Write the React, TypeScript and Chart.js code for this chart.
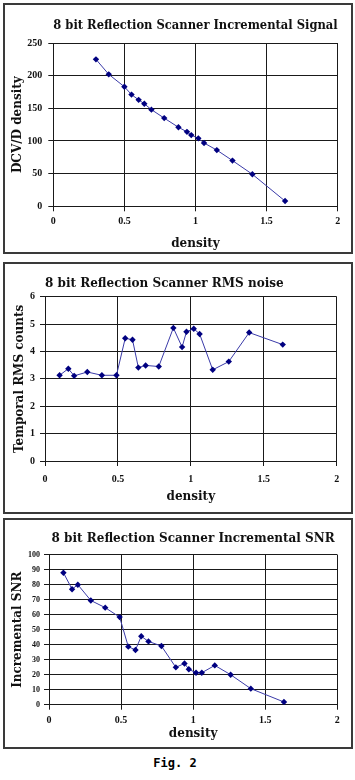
import React, { useEffect, useRef } from "react";
import Chart from "chart.js/auto";

// ---- data ----
const densitySignal = [0.30, 0.39, 0.50, 0.55, 0.60, 0.64, 0.69, 0.78, 0.88, 0.94, 0.97, 1.02, 1.06, 1.15, 1.26, 1.40, 1.63];
const signalValues = [225, 202, 183, 171, 163, 157, 148, 135, 121, 114, 109, 104, 97, 86, 70, 49, 8];

const densityNoise = [0.10, 0.16, 0.20, 0.29, 0.39, 0.49, 0.55, 0.60, 0.64, 0.69, 0.78, 0.88, 0.94, 0.97, 1.02, 1.06, 1.15, 1.26, 1.40, 1.63];
const rmsValues = [3.13, 3.37, 3.11, 3.25, 3.13, 3.13, 4.48, 4.43, 3.41, 3.49, 3.45, 4.86, 4.16, 4.72, 4.83, 4.64, 3.33, 3.63, 4.69, 4.25];
const snrValues = [88, 77, 80, 69.5, 64.7, 58.4, 38.7, 36.5, 45.6, 42.2, 39.1, 24.9, 27.5, 23.6, 21.3, 21.3, 26.2, 20, 10.7, 1.8];

const xTickStep = 0.5;
const xMin = 0;
const xMax = 2;

const titles = [
  "8 bit Reflection Scanner Incremental Signal",
  "8 bit Reflection Scanner RMS noise",
  "8 bit Reflection Scanner Incremental SNR",
];
const yTitles = ["DCV/D density", "Temporal RMS counts", "Incremental SNR"];
const xTitle = "density";

const SERIF_TITLE = "'DejaVu Serif', serif";
const SERIF_TICK = "'Liberation Serif', serif";
const TEXT = "#111";
const GRID = "#1a1a1a";
const LINE = "#3a3aa8";
const MARK = "#000080";

type Panel = {
  title: string;
  yTitle: string;
  xs: number[];
  ys: number[];
  yMin: number;
  yMax: number;
  yStep: number;
  yTickSize: number;
  boxTop: number;
  boxHeight: number;
  canvasTop: number;
  canvasHeight: number;
  plotTop: number;
  plotBottom: number;
  plotLeft: number;
  plotRight: number;
  titleCenter: number;
  titleAlign: "center" | "start";
  yTitleX: number;
  yTickGap: number;
  xTickBelow: number;
  xTitleCenter: number;
};

const panels: Panel[] = [
  {
    title: titles[0], yTitle: yTitles[0], xs: densitySignal, ys: signalValues,
    yMin: 0, yMax: 250, yStep: 50, yTickSize: 10,
    boxTop: 3, boxHeight: 251, canvasTop: 3, canvasHeight: 251,
    plotTop: 40, plotBottom: 203.3, plotLeft: 53.3, plotRight: 337.7,
    titleCenter: 23, titleAlign: "center", yTitleX: 18, yTickGap: 11,
    xTickBelow: 14.7, xTitleCenter: 241,
  },
  {
    title: titles[1], yTitle: yTitles[1], xs: densityNoise, ys: rmsValues,
    yMin: 0, yMax: 6, yStep: 1, yTickSize: 10,
    boxTop: 262, boxHeight: 252, canvasTop: 262, canvasHeight: 251,
    plotTop: 34.7, plotBottom: 199, plotLeft: 45, plotRight: 336.7,
    titleCenter: 22, titleAlign: "start", yTitleX: 20, yTickGap: 10,
    xTickBelow: 18, xTitleCenter: 235,
  },
  {
    title: titles[2], yTitle: yTitles[2], xs: densityNoise, ys: snrValues,
    yMin: 0, yMax: 100, yStep: 10, yTickSize: 8,
    boxTop: 518, boxHeight: 231, canvasTop: 518, canvasHeight: 231,
    plotTop: 36.7, plotBottom: 186.7, plotLeft: 49, plotRight: 337.3,
    titleCenter: 21, titleAlign: "center", yTitleX: 18, yTickGap: 9,
    xTickBelow: 15.3, xTitleCenter: 216,
  },
];

const W = 355;

function ChartPanel({ p }: { p: Panel }) {
  const ref = useRef<HTMLCanvasElement | null>(null);
  useEffect(() => {
    if (!ref.current) return;
    const titleLH = 14.4;
    const tickLen = 5;
    const titleFont = { family: SERIF_TITLE, size: 12, weight: "bold", lineHeight: 1.2 };
    const chart = new Chart(ref.current, {
      type: "scatter",
      data: {
        datasets: [
          {
            data: p.xs.map((x, i) => ({ x, y: p.ys[i] })),
            showLine: true,
            borderColor: LINE,
            borderWidth: 1,
            pointStyle: "rectRot",
            pointRadius: 3.2,
            pointBackgroundColor: MARK,
            pointBorderColor: MARK,
            pointBorderWidth: 0,
            tension: 0,
          },
        ],
      },
      options: {
        responsive: false,
        animation: false,
        devicePixelRatio: 1,
        layout: { padding: { left: 0, right: W - p.plotRight, top: 0, bottom: 0 } },
        plugins: {
          legend: { display: false },
          tooltip: { enabled: false },
          title: {
            display: true,
            text: p.title,
            fullSize: false,
            align: p.titleAlign,
            color: TEXT,
            font: titleFont,
            padding: {
              top: p.titleCenter - titleLH / 2,
              bottom: p.plotTop - p.titleCenter - titleLH / 2,
            },
          },
        },
        scales: {
          x: {
            type: "linear",
            min: xMin,
            max: xMax,
            ticks: {
              stepSize: xTickStep,
              color: TEXT,
              font: { family: SERIF_TICK, size: 10, weight: "bold" },
              padding: p.xTickBelow - tickLen - 6,
              callback: (v: any) => String(Number(v)),
            },
            grid: { color: GRID, lineWidth: 1, tickLength: tickLen },
            border: { color: GRID, width: 1 },
            title: {
              display: true,
              text: xTitle,
              color: TEXT,
              font: titleFont,
              padding: { top: 0, bottom: p.canvasHeight - p.xTitleCenter - titleLH / 2 },
            },
            afterFit: (s: any) => {
              s.height = p.canvasHeight - p.plotBottom;
            },
          },
          y: {
            type: "linear",
            min: p.yMin,
            max: p.yMax,
            ticks: {
              stepSize: p.yStep,
              color: TEXT,
              font: { family: SERIF_TICK, size: p.yTickSize, weight: "bold" },
              padding: p.yTickGap - tickLen,
              callback: (v: any) => String(Number(v)),
            },
            grid: { color: GRID, lineWidth: 1, tickLength: tickLen },
            border: { color: GRID, width: 1 },
            title: {
              display: true,
              text: p.yTitle,
              color: TEXT,
              font: titleFont,
              padding: { top: p.yTitleX - titleLH / 2, bottom: 0 },
            },
            afterFit: (s: any) => {
              s.width = p.plotLeft;
            },
          },
        },
      } as any,
    });
    return () => chart.destroy();
  }, [p]);

  return (
    <>
      <div
        style={{
          position: "absolute",
          left: 3,
          top: p.boxTop,
          width: 350,
          height: p.boxHeight,
          boxSizing: "border-box",
          border: "2px solid #3a3a3a",
          background: "#fff",
        }}
      />
      <canvas
        ref={ref}
        width={W}
        height={p.canvasHeight}
        style={{ position: "absolute", left: 0, top: p.canvasTop, width: W, height: p.canvasHeight }}
      />
    </>
  );
}

export default function App() {
  return (
    <div style={{ position: "fixed", left: 0, top: 0, width: 355, height: 780, background: "#fff", overflow: "hidden" }}>
      {panels.map((p, i) => (
        <ChartPanel key={i} p={p} />
      ))}
      <div
        style={{
          position: "absolute",
          left: 0,
          top: 756,
          width: 350,
          textAlign: "center",
          fontFamily: "'DejaVu Sans Mono', monospace",
          fontWeight: "bold",
          fontSize: 12,
          lineHeight: "14px",
          color: "#000",
        }}
      >
        Fig. 2
      </div>
    </div>
  );
}
